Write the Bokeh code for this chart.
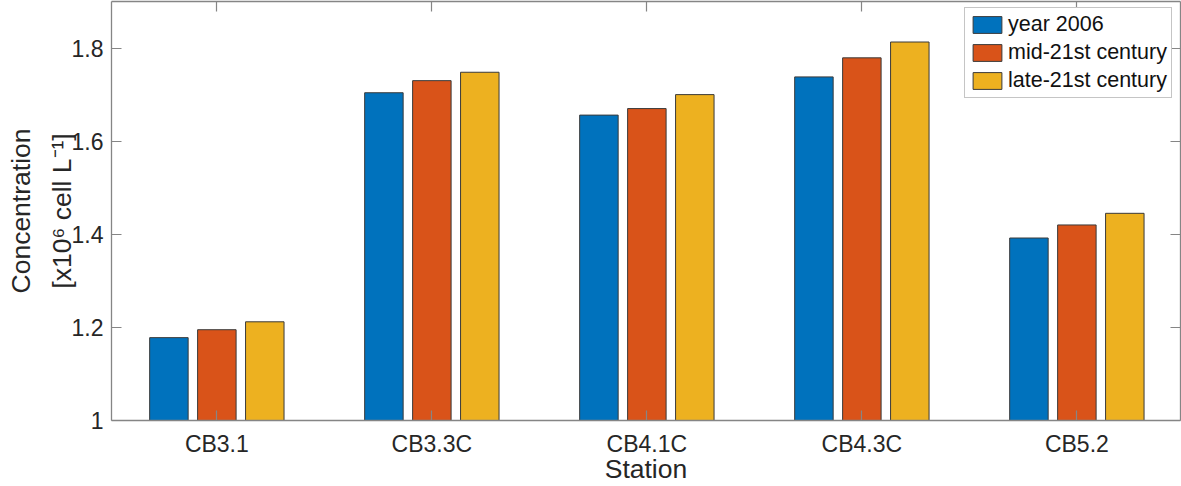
from bokeh.embed import file_html
from bokeh.models import ColumnDataSource, Legend, LegendItem, LinearAxis
from bokeh.plotting import figure
from bokeh.resources import INLINE
from bokeh.transform import dodge

stations = ["CB3.1", "CB3.3C", "CB4.1C", "CB4.3C", "CB5.2"]
positions = [1, 2, 3, 4, 5]
year_2006 = [1.178, 1.704, 1.656, 1.738, 1.392]
mid_century = [1.195, 1.730, 1.670, 1.779, 1.420]
late_century = [1.212, 1.748, 1.700, 1.813, 1.445]
y_ticks = [1, 1.2, 1.4, 1.6, 1.8]
y_tick_labels = ["1", "1.2", "1.4", "1.6", "1.8"]

FONT = "Liberation Sans"
GRAY = "#858585"

source = ColumnDataSource(
    dict(x=positions, bottom=[1] * 5, y2006=year_2006, mid=mid_century, late=late_century)
)

p = figure(
    width=1181,
    height=486,
    x_range=(0.51, 5.482),
    y_range=(1, 1.9),
    output_backend="svg",
    toolbar_location=None,
    min_border_left=111,
    min_border_right=1,
    min_border_top=1,
    min_border_bottom=66,
    margin=0,
)
p.grid.visible = False
p.outline_line_color = None

series = [
    ("y2006", -0.223, "#0072BD", "year 2006"),
    ("mid", 0, "#D95319", "mid-21st century"),
    ("late", 0.223, "#EDB120", "late-21st century"),
]
items = []
for col, off, color, name in series:
    r = p.vbar(
        x=dodge("x", off),
        top=col,
        bottom="bottom",
        source=source,
        width=0.179,
        fill_color=color,
        line_color="#3a3a3a",
        line_width=1,
    )
    items.append(LegendItem(label=name, renderers=[r]))

# boxed axes, ticks point inward on all four sides
xax = p.below[0]
yax = p.left[0]
xax.ticker = positions
xax.major_label_overrides = dict(zip(positions, stations))
yax.ticker = y_ticks
yax.major_label_overrides = dict(zip(y_ticks, y_tick_labels))
right_ax = LinearAxis(ticker=y_ticks, major_label_overrides={v: "" for v in y_ticks})
top_ax = LinearAxis(ticker=positions, major_label_overrides={v: "" for v in positions})
p.add_layout(right_ax, "right")
p.add_layout(top_ax, "above")

for ax in [xax, yax, right_ax, top_ax]:
    ax.axis_line_color = GRAY
    ax.axis_line_width = 1.3
    ax.major_tick_line_color = GRAY
    ax.major_tick_line_width = 1.2
    ax.major_tick_in = 10
    ax.major_tick_out = 0
    ax.minor_tick_line_color = None
    ax.major_label_text_font = FONT
    ax.major_label_text_color = "#262626"
    ax.major_label_text_font_size = "23px"
for ax in [right_ax, top_ax]:
    ax.major_label_text_font_size = "1px"
    ax.major_label_standoff = 0

xax.major_label_standoff = 10
yax.major_label_standoff = 8

for ax, title in [(xax, "Station"), (yax, "Concentration\n[x10\u2076 cell L\u207b\u00b9]")]:
    ax.axis_label = title
    ax.axis_label_text_font = FONT
    ax.axis_label_text_font_style = "normal"
    ax.axis_label_text_font_size = "26.5px"
    ax.axis_label_text_color = "#262626"
xax.axis_label_standoff = -6
yax.axis_label_text_line_height = 1.34
yax.axis_label_standoff = -8

legend = Legend(
    items=items,
    location=(853, 322),
    margin=0,
    padding=4,
    spacing=3,
    glyph_width=36,
    glyph_height=21,
    label_height=21,
    label_standoff=3,
    label_text_font=FONT,
    label_text_font_size="21.5px",
    label_text_color="#111111",
    border_line_color="#8c8c8c",
    border_line_width=1.3,
    background_fill_alpha=1,
)
p.add_layout(legend)

open("out.html", "w").write(file_html(p, INLINE))
